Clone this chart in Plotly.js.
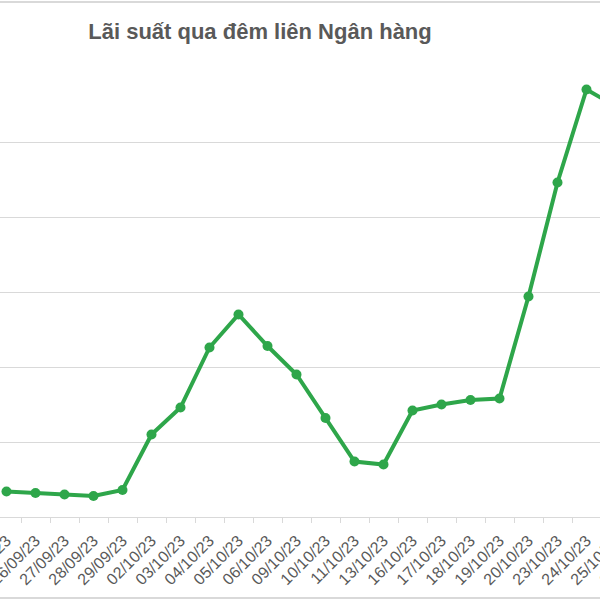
<!DOCTYPE html>
<html>
<head>
<meta charset="utf-8">
<script src="https://cdn.plot.ly/plotly-3.0.1.min.js"></script>
<style>
html,body{margin:0;padding:0;width:600px;height:600px;overflow:hidden;background:#fff;position:relative;}
#chart{position:absolute;left:-80px;top:0;width:760px;height:600px;}
#frameTop{position:absolute;left:0;top:1px;width:600px;height:0;border-top:2px solid #d9d9d9;z-index:5;}
#frameBot{position:absolute;left:0;top:597px;width:600px;height:0;border-top:2px solid #d9d9d9;z-index:5;}
</style>
</head>
<body>
<div id="chart"></div>
<div id="frameTop"></div>
<div id="frameBot"></div>
<script>
const dates = ["25/09/23","26/09/23","27/09/23","28/09/23","29/09/23","02/10/23","03/10/23","04/10/23","05/10/23","06/10/23","09/10/23","10/10/23","11/10/23","13/10/23","16/10/23","17/10/23","18/10/23","19/10/23","20/10/23","23/10/23","24/10/23","25/10/23","26/10/23"];
const rates = [0.17,0.16,0.15,0.14,0.18,0.55,0.73,1.13,1.35,1.14,0.95,0.66,0.37,0.35,0.71,0.75,0.78,0.79,1.47,2.23,2.85,2.74,2.60];
const chartTitle = "Lãi suất qua đêm liên Ngân hàng";

const trace = {
  x: dates, y: rates, type: 'scatter', mode: 'lines+markers',
  line: {color: '#2ea64a', width: 4},
  marker: {color: '#2ea64a', size: 10},
  cliponaxis: true, hoverinfo: 'skip'
};
const layout = {
  width: 760, height: 600,
  margin: {l: 72, r: 21, t: 67, b: 83},
  paper_bgcolor: '#ffffff', plot_bgcolor: '#ffffff',
  separators: ',.',
  showlegend: false,
  title: {text: '<b>' + chartTitle + '</b>', x: 340/760, xref: 'container', xanchor: 'center', y: 0.948, yref: 'container', yanchor: 'middle',
    font: {family: 'Liberation Sans, Arial, sans-serif', size: 22, color: '#595959'}},
  xaxis: {type: 'category', automargin: false, range: [-0.5, dates.length - 0.5], autorange: false,
    tickangle: -45, showgrid: false, showline: true, linecolor: '#d9d9d9', linewidth: 1,
    ticks: 'outside', ticklen: 5, tickcolor: '#d9d9d9', tickson: 'boundaries', ticklabelstandoff: 7,
    tickfont: {family: 'Liberation Sans, Arial, sans-serif', size: 16, color: '#595959'}, zeroline: false},
  yaxis: {automargin: false, range: [0, 3], dtick: 0.5, showgrid: true, gridcolor: '#d9d9d9', gridwidth: 1, zeroline: false,
    tickformat: '.2f', ticksuffix: '%', showline: false,
    tickfont: {family: 'Liberation Sans, Arial, sans-serif', size: 13, color: '#595959'}}
};
Plotly.newPlot('chart', [trace], layout, {displayModeBar: false, staticPlot: true});
</script>
</body>
</html>
